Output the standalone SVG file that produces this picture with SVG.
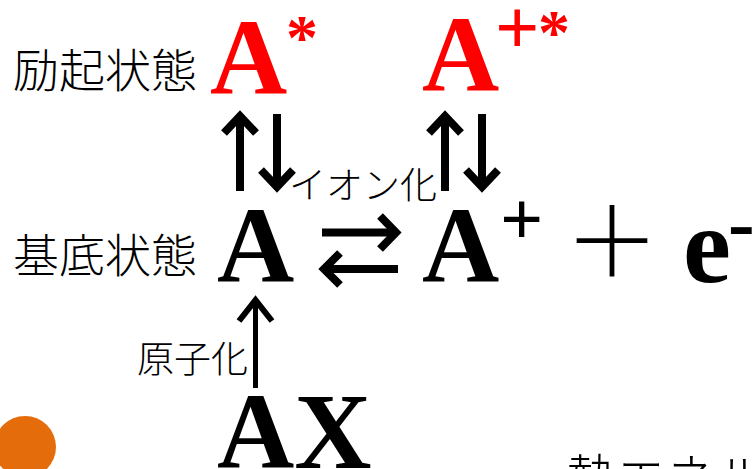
<svg xmlns="http://www.w3.org/2000/svg" width="754" height="469" viewBox="0 0 754 469">
<style>
.jp{font-family:"Noto Sans CJK JP","Noto Sans",sans-serif;fill:#000;font-weight:300}
.tb{font-family:"Liberation Serif","Times New Roman",serif;font-weight:bold}
.red{fill:#ff0000}
.blk{fill:#000}
.arr{fill:none;stroke:#000;stroke-linecap:butt;stroke-linejoin:miter}
</style>
<rect width="754" height="469" fill="#fff"/>
<g id="labels">
<text class="jp" x="13" y="87" font-size="46">励起状態</text>
<text class="jp" x="13" y="272" font-size="46">基底状態</text>
<text class="jp" x="289" y="199" font-size="37">イオン化</text>
<text class="jp" x="137" y="373" font-size="37">原子化</text>
<text class="jp" x="566" y="496" font-size="50">熱エネル</text>
</g>
<g id="node-A-excited">
<text class="tb red" x="210" y="94" font-size="107">A</text>
<text class="tb red" x="286" y="59" font-size="64">*</text>
</g>
<g id="node-Aplus-excited">
<text class="tb red" x="422" y="91" font-size="107">A</text>
<text class="tb red" x="495" y="54" font-size="78">+</text>
<text class="tb red" x="538" y="54" font-size="64">*</text>
</g>
<g id="node-A">
<text class="tb blk" x="217" y="282" font-size="107">A</text>
</g>
<g id="node-Aplus">
<text class="tb blk" x="422" y="282" font-size="107">A</text>
<text class="tb blk" x="500" y="245" font-size="76">+</text>
</g>
<g id="plus">
<text class="jp" x="564" y="276" font-size="96">＋</text>
</g>
<g id="node-e">
<text class="tb blk" x="683" y="282" font-size="108">e</text>
<text class="tb blk" x="728" y="250" font-size="80">-</text>
</g>
<g id="node-AX">
<text class="tb blk" x="217" y="468" font-size="107">AX</text>
</g>
<circle id="bullet" cx="25" cy="447" r="31" fill="#E46C0A"/>
<g id="connectors">
<g class="arr" stroke-width="8">
<line x1="240" y1="191" x2="240" y2="117"/>
<polyline points="224,133 240,116 256,133"/>
<line x1="277" y1="114" x2="277" y2="186"/>
<polyline points="261,170 277,187 293,170"/>
<line x1="445" y1="191" x2="445" y2="117"/>
<polyline points="429,133 445,116 461,133"/>
<line x1="482" y1="114" x2="482" y2="186"/>
<polyline points="466,170 482,187 498,170"/>
<line x1="322" y1="232.5" x2="394" y2="232.5"/>
<polyline points="380,216 396,232.5 380,249"/>
<line x1="326" y1="269" x2="398" y2="269"/>
<polyline points="340,253 324,269 340,285"/>
</g>
<g class="arr">
<line x1="255.5" y1="388" x2="255.5" y2="302" stroke-width="5"/>
<polyline points="239,321 255.5,300 272,321" stroke-width="6"/>
</g>
</g>
</svg>
